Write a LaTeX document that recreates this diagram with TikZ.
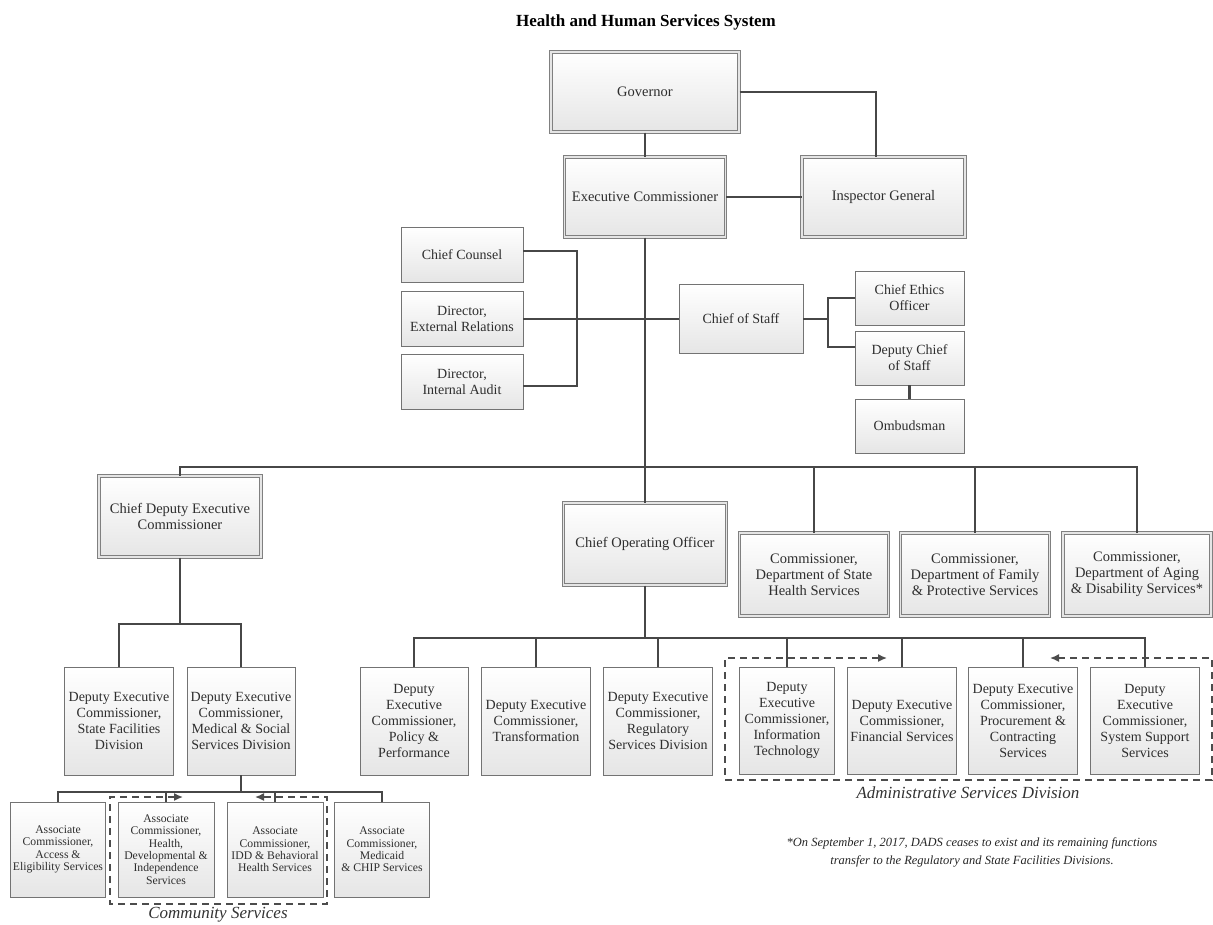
\documentclass[tikz,border=0pt]{standalone}
\usepackage{fontspec}
\setmainfont{Liberation Serif}
\usetikzlibrary{arrows.meta}
\begin{document}
\begin{tikzpicture}[x=1pt,y=-1pt,
  conn/.style={draw=black!72, line width=2.1pt},
  dbox/.style={draw=black!50, double=black!10, double distance=1.4pt, line width=1pt,
    top color=white, bottom color=black!10, text=black!82,
    font=\fontsize{14.5}{16}\selectfont, align=center, inner xsep=1pt, inner ysep=1pt},
  sbox/.style={draw=black!55, line width=0.9pt, top color=white, bottom color=black!10,
    text=black!82, font=\fontsize{14}{16}\selectfont, align=center, inner xsep=1pt, inner ysep=1pt},
  abox/.style={sbox, font=\fontsize{11.7}{12.3}\selectfont},
  dashbox/.style={draw=black!70, line width=1.5pt, dash pattern=on 7pt off 5pt,
    arrows={Latex[length=9pt,width=8pt]-Latex[length=9pt,width=8pt]}},
  lbl/.style={font=\fontsize{17}{19}\selectfont\itshape, text=black!80}
]
\useasboundingbox (0,0) rectangle (1213,924);

% title
\node[font=\fontsize{17}{19}\selectfont\bfseries] (title) at (646,22) {Health and Human Services System};

% top level
\node[dbox, minimum width=188pt, minimum height=80pt] (gov) at (645,92) {Governor};
\node[dbox, minimum width=161pt, minimum height=80pt] (ec) at (645,197) {Executive Commissioner};
\node[dbox, minimum width=163pt, minimum height=80pt] (ig) at (883.5,197) {Inspector General};

% staff
\node[sbox, minimum width=122pt, minimum height=55pt] (cc) at (462,254.5) {Chief Counsel};
\node[sbox, minimum width=122pt, minimum height=55pt] (er) at (462,319) {Director,\\External Relations};
\node[sbox, minimum width=122pt, minimum height=55pt] (ia) at (462,381.5) {Director,\\Internal Audit};
\node[sbox, minimum width=124pt, minimum height=69pt] (cos) at (741,319) {Chief of Staff};
\node[sbox, minimum width=109pt, minimum height=54pt] (eth) at (909.5,298) {Chief Ethics\\Officer};
\node[sbox, minimum width=109pt, minimum height=54pt] (dcos) at (909.5,358) {Deputy Chief\\of Staff};
\node[sbox, minimum width=109pt, minimum height=54pt] (omb) at (909.5,426) {Ombudsman};

% second level
\node[dbox, minimum width=162pt, minimum height=81pt] (cdec) at (180,516.5) {Chief Deputy Executive\\Commissioner};
\node[dbox, minimum width=163pt, minimum height=82pt] (coo) at (645,544) {Chief Operating Officer};
\node[dbox, minimum width=149pt, minimum height=83pt] (dshs) at (814,574.5) {Commissioner,\\Department of State\\Health Services};
\node[dbox, minimum width=149pt, minimum height=83pt] (dfps) at (975,574.5) {Commissioner,\\Department of Family\\\& Protective Services};
\node[dbox, minimum width=148pt, minimum height=83pt] (dads) at (1137,574.5) {Commissioner,\\Department of Aging\\\& Disability Services*};

% deputy executive commissioners
\node[sbox, minimum width=109pt, minimum height=108pt] (sf) at (119,721) {Deputy Executive\\Commissioner,\\State Facilities\\Division};
\node[sbox, minimum width=108pt, minimum height=108pt] (mss) at (241,721) {Deputy Executive\\Commissioner,\\Medical \& Social\\Services Division};
\node[sbox, minimum width=108pt, minimum height=108pt] (pol) at (414,721) {Deputy\\Executive\\Commissioner,\\Policy \&\\Performance};
\node[sbox, minimum width=109pt, minimum height=108pt] (tra) at (536,721) {Deputy Executive\\Commissioner,\\Transformation};
\node[sbox, minimum width=109pt, minimum height=108pt] (reg) at (658,721) {Deputy Executive\\Commissioner,\\Regulatory\\Services Division};
\node[sbox, minimum width=95pt, minimum height=107pt] (it) at (787,720.5) {Deputy\\Executive\\Commissioner,\\Information\\Technology};
\node[sbox, minimum width=109pt, minimum height=107pt] (fin) at (902,720.5) {Deputy Executive\\Commissioner,\\Financial Services};
\node[sbox, minimum width=109pt, minimum height=107pt] (pro) at (1023,720.5) {Deputy Executive\\Commissioner,\\Procurement \&\\Contracting\\Services};
\node[sbox, minimum width=109pt, minimum height=107pt] (sys) at (1145,720.5) {Deputy\\Executive\\Commissioner,\\System Support\\Services};

% associate commissioners
\node[abox, minimum width=95pt, minimum height=95pt] (acc) at (58,849.5) {Associate\\Commissioner,\\Access \&\\Eligibility Services};
\node[abox, minimum width=96pt, minimum height=95pt] (hd) at (166,849.5) {Associate\\Commissioner,\\Health,\\Developmental \&\\Independence\\Services};
\node[abox, minimum width=96pt, minimum height=95pt] (idd) at (275,849.5) {Associate\\Commissioner,\\IDD \& Behavioral\\Health Services};
\node[abox, minimum width=95pt, minimum height=95pt] (med) at (382,849.5) {Associate\\Commissioner,\\Medicaid\\\& CHIP Services};

% connectors: top
\draw[conn] (gov.south) -- (gov.south |- ec.north);
\coordinate (gi) at (876,92);
\draw[conn] (gov.east) -- (gi) -- (gi |- ig.north);
\draw[conn] (ec.east) -- (ec.east -| ig.west);
\draw[conn] (ec.south) -- (ec.south |- coo.north);

% left staff bracket
\coordinate (lb1) at (577,251);
\coordinate (lb2) at (577,386);
\draw[conn] (cc.east |- lb1) -- (lb1) -- (lb2) -- (ia.east |- lb2);
\draw[conn] (er.east) -- (cos.west);

% right staff bracket
\coordinate (rb0) at (828,319);
\coordinate (rb1) at (828,298);
\coordinate (rb2) at (828,347);
\draw[conn] (cos.east) -- (rb0);
\draw[conn] (eth.west) -- (rb1) -- (rb2) -- (dcos.west |- rb2);
\draw[conn] (dcos.south) -- (omb.north);

% main bus
\coordinate (bL) at (180,467);
\coordinate (bR) at (1137,467);
\draw[conn] (cdec.north) -- (bL) -- (bR) -- (dads.north);
\draw[conn] (dshs.north) -- (dshs.north |- bL);
\draw[conn] (dfps.north) -- (dfps.north |- bL);

% chief deputy branch
\coordinate (c1) at (180,624);
\draw[conn] (cdec.south) -- (c1);
\draw[conn] (sf.north) |- (c1) -| (mss.north);

% medical & social branch
\coordinate (m1) at (241,792);
\draw[conn] (mss.south) -- (m1);
\draw[conn] (acc.north) |- (m1) -| (med.north);
\draw[conn] (hd.north) -- (hd.north |- m1);
\draw[conn] (idd.north) -- (idd.north |- m1);

% COO branch
\coordinate (o1) at (645,638);
\draw[conn] (coo.south) -- (o1);
\draw[conn] (pol.north) |- (o1) -| (sys.north);
\draw[conn] (tra.north) -- (tra.north |- o1);
\draw[conn] (reg.north) -- (reg.north |- o1);
\draw[conn] (it.north) -- (it.north |- o1);
\draw[conn] (fin.north) -- (fin.north |- o1);
\draw[conn] (pro.north) -- (pro.north |- o1);

% dashed groups
\coordinate (as1) at (887,658);
\coordinate (as2) at (725,658);
\coordinate (as3) at (725,780);
\coordinate (as4) at (1212,780);
\coordinate (as5) at (1212,658);
\coordinate (as6) at (1050,658);
\draw[dashbox] (as1) -- (as2) -- (as3) -- (as4) -- (as5) -- (as6);
\node[lbl] (adl) at (968,793) {Administrative Services Division};

\coordinate (cs1) at (183,797);
\coordinate (cs2) at (110,797);
\coordinate (cs3) at (110,904);
\coordinate (cs4) at (327,904);
\coordinate (cs5) at (327,797);
\coordinate (cs6) at (255,797);
\draw[dashbox] (cs1) -- (cs2) -- (cs3) -- (cs4) -- (cs5) -- (cs6);
\node[lbl] (csl) at (218,915) {Community Services};

% footnote
\node[font=\fontsize{12.5}{18}\selectfont\itshape, align=center, text=black!85] (fn) at (972,852)
  {*On September 1, 2017, DADS ceases to exist and its remaining functions\\transfer to the Regulatory and State Facilities Divisions.};
\end{tikzpicture}
\end{document}
